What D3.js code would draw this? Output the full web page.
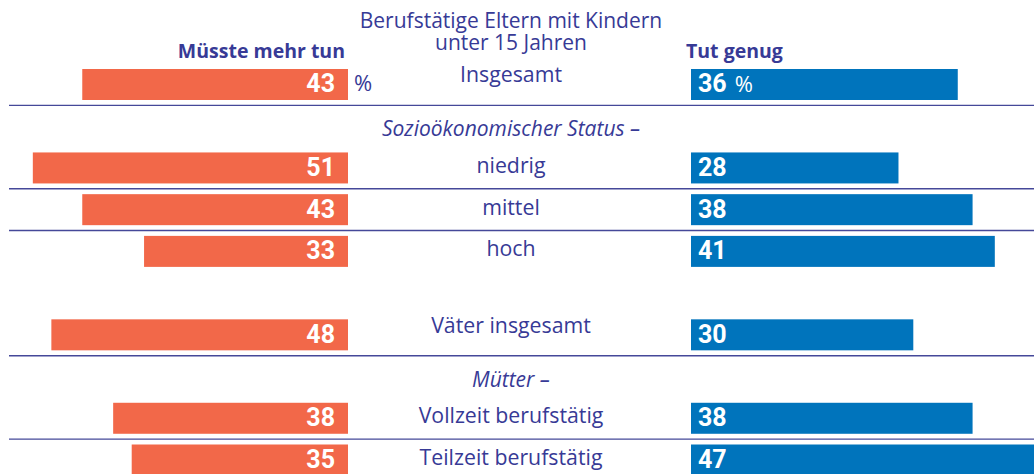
<!DOCTYPE html>
<html><head><meta charset="utf-8">
<script src="https://cdn.jsdelivr.net/npm/d3@7"></script>
<style>body{margin:0;background:#fff}svg{display:block}</style>
</head><body><svg id="c" width="1034" height="474"></svg>
<script>
// ---- data ----
const slots = ["Insgesamt","Sozioökonomischer Status –","niedrig","mittel","hoch","gap","Väter insgesamt","Mütter –","Vollzeit berufstätig","Teilzeit berufstätig"];
const categories = ["Insgesamt","niedrig","mittel","hoch","Väter insgesamt","Vollzeit berufstätig","Teilzeit berufstätig"];
const muessteMehrTun = [43,51,43,33,48,38,35];
const tutGenug = [36,28,38,41,30,38,47];
const groupHeaders = ["Sozioökonomischer Status –","Mütter –"];
const totals = ["Insgesamt","Väter insgesamt"];
const dividersAfter = ["Insgesamt","niedrig","mittel","Väter insgesamt","Vollzeit berufstätig"];
const titleLines = ["Berufstätige Eltern mit Kindern","unter 15 Jahren"];
const seriesNames = ["Müsste mehr tun","Tut genug"];

// ---- styles ----
const ORANGE = "#f26849", BLUE = "#0074bc", INK = "#373a96", LINE = "#454899";
const FONT = "'Open Sans', 'DejaVu Sans', sans-serif";
const NUMFONT = "'Liberation Sans Narrow', 'Roboto', 'Liberation Sans', sans-serif";

const svg = d3.select("#c");
const W = 1034, CX = 511;

const y = d3.scaleBand().domain(slots).range([69, 475.5]).paddingInner(0.257).paddingOuter(0);
const xL = d3.scaleLinear().domain([0, 50]).range([348, 348 - 309]);
const xR = d3.scaleLinear().domain([0, 50]).range([691, 691 + 370.5]);
const bw = y.bandwidth();
const mid = d => y(d) + bw / 2;

const rows = categories.map((c, i) => ({c, l: muessteMehrTun[i], r: tutGenug[i]}));

// divider lines
svg.append("g").selectAll("line").data(dividersAfter).join("line")
  .attr("x1", 9).attr("x2", W)
  .attr("y1", d => y(d) + y.step() - (y.step() - bw) / 2)
  .attr("y2", d => y(d) + y.step() - (y.step() - bw) / 2)
  .attr("stroke", LINE).attr("stroke-width", 1.4);

// left bars
svg.append("g").selectAll("rect").data(rows).join("rect")
  .attr("x", d => xL(d.l)).attr("width", d => xL(0) - xL(d.l))
  .attr("y", d => y(d.c)).attr("height", bw).attr("fill", ORANGE);
// right bars
svg.append("g").selectAll("rect").data(rows).join("rect")
  .attr("x", xR(0)).attr("width", d => xR(d.r) - xR(0))
  .attr("y", d => y(d.c)).attr("height", bw).attr("fill", BLUE);

// value labels
svg.append("g").selectAll("text").data(rows).join("text")
  .attr("x", xL(0) - 13).attr("y", d => mid(d.c) + 8)
  .attr("text-anchor", "end").attr("fill", "#fff")
  .attr("font-family", NUMFONT).attr("font-weight", "bold").attr("font-size", 25)
  .text(d => d.l);
const rl = svg.append("g").selectAll("text").data(rows).join("text")
  .attr("x", xR(0) + 7).attr("y", d => mid(d.c) + 8)
  .attr("fill", "#fff")
  .attr("font-family", NUMFONT).attr("font-weight", "bold").attr("font-size", 25);
rl.append("tspan").text(d => d.r);
rl.filter((d, i) => i === 0).append("tspan")
  .attr("font-family", FONT).attr("font-weight", "normal").attr("font-size", 22)
  .attr("dx", 8).text("%");
// left percent sign
svg.append("text").attr("x", xL(0) + 6).attr("y", mid(categories[0]) + 6.5)
  .attr("fill", INK).attr("font-family", FONT).attr("font-size", 22).text("%");

// category labels
svg.append("g").selectAll("text").data(categories).join("text")
  .attr("x", CX).attr("y", d => mid(d) + (totals.includes(d) ? -2 : 5))
  .attr("text-anchor", "middle").attr("fill", INK)
  .attr("font-family", FONT).attr("font-size", 21.3)
  .text(d => d);
// group headers
svg.append("g").selectAll("text").data(groupHeaders).join("text")
  .attr("x", CX).attr("y", d => mid(d) + 10)
  .attr("text-anchor", "middle").attr("fill", INK)
  .attr("font-family", FONT).attr("font-style", "italic").attr("font-size", 21)
  .text(d => d);

// title
svg.append("g").selectAll("text").data(titleLines).join("text")
  .attr("x", CX).attr("y", (d, i) => 28 + i * 22)
  .attr("text-anchor", "middle").attr("fill", INK)
  .attr("font-family", FONT).attr("font-size", 21)
  .text(d => d);

// series names
svg.append("text").attr("x", xL(0) - 3).attr("y", 58).attr("text-anchor", "end")
  .attr("fill", INK).attr("font-family", FONT).attr("font-weight", "bold").attr("font-size", 19.5)
  .text(seriesNames[0]);
svg.append("text").attr("x", xR(0) - 5).attr("y", 58)
  .attr("fill", INK).attr("font-family", FONT).attr("font-weight", "bold").attr("font-size", 19.5)
  .text(seriesNames[1]);
</script></body></html>
